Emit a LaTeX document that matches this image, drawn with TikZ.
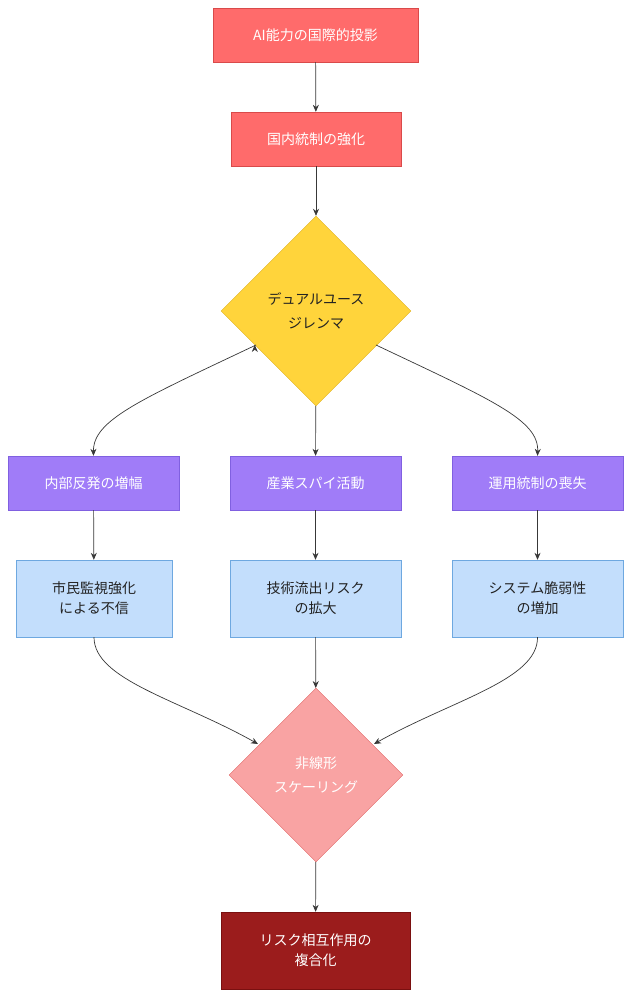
\documentclass[tikz,border=0pt]{standalone}
\usepackage{fontspec}
\setmainfont{Noto Sans CJK JP}
\usetikzlibrary{shapes.geometric,arrows.meta}
\definecolor{redA}{HTML}{FF6B6B}\definecolor{redB}{HTML}{D94A4A}
\definecolor{yel}{HTML}{FFD43B}\definecolor{yelB}{HTML}{E0B020}
\definecolor{pur}{HTML}{A07CF8}\definecolor{purB}{HTML}{8060E0}
\definecolor{blu}{HTML}{C3DEFC}\definecolor{bluB}{HTML}{6EA8E0}
\definecolor{pnk}{HTML}{F9A3A3}\definecolor{pnkB}{HTML}{E06666}
\definecolor{drk}{HTML}{9B1C1C}\definecolor{drkB}{HTML}{7A1010}
\definecolor{txt}{HTML}{222222}
\begin{document}
\begin{tikzpicture}[x=1pt,y=-1pt,
 box/.style={draw,rectangle,minimum width=#1,align=center,font=\fontsize{14}{20}\selectfont},
 red/.style={box=#1,fill=redA,draw=redB,text=white,minimum height=54},
 purp/.style={box=#1,fill=pur,draw=purB,text=white,minimum height=54},
 blue/.style={box=#1,fill=blu,draw=bluB,text=txt,minimum height=77},
 dia/.style={diamond,draw,align=center,font=\fontsize{14}{24}\selectfont,inner sep=0pt,minimum width=#1,minimum height=#1},
 arr/.style={draw=txt!90,line width=0.7pt,-{Stealth[length=7pt,width=6pt]}}]
\useasboundingbox (0,0) rectangle (632,998);
\node[red=205] (a) at (315.5,35) {AI能力の国際的投影};
\node[red=170] (b) at (316,139) {国内統制の強化};
\node[dia=190,fill=yel,draw=yelB,text=txt] (c) at (316,311) {デュアルユース\\ジレンマ};
\node[purp=171] (p1) at (93.5,483) {内部反発の増幅};
\node[purp=171] (p2) at (315.5,483) {産業スパイ活動};
\node[purp=171] (p3) at (537.5,483) {運用統制の喪失};
\node[blue=156] (q1) at (94,598.5) {市民監視強化\\による不信};
\node[blue=171] (q2) at (315.5,598.5) {技術流出リスク\\の拡大};
\node[blue=171] (q3) at (537.5,598.5) {システム脆弱性\\の増加};
\node[dia=174,fill=pnk,draw=pnkB,text=white] (d) at (316,775) {非線形\\スケーリング};
\node[box=189,minimum height=77,fill=drk,draw=drkB,text=white] (e) at (315.5,950.5) {リスク相互作用の\\複合化};
\draw[arr] (a) -- (b);
\draw[arr] (b) -- (c);
\draw[arr] (c.west) ++(34,34) coordinate (c1);
\draw[arr] (256,345) .. controls (140,400) and (93,420) .. (p1.north);
\draw[arr] (c) -- (p2);
\draw[arr] (376,345) .. controls (492,400) and (539,420) .. (p3.north);
\draw[arr] (p1) -- (q1);
\draw[arr] (p2) -- (q2);
\draw[arr] (p3) -- (q3);
\draw[arr] (q1.south) .. controls (94,680) and (180,700) .. (258,744);
\draw[arr] (q2) -- (d);
\draw[arr] (q3.south) .. controls (538,680) and (452,700) .. (374,744);
\draw[arr] (d) -- (e);
\end{tikzpicture}
\end{document}
